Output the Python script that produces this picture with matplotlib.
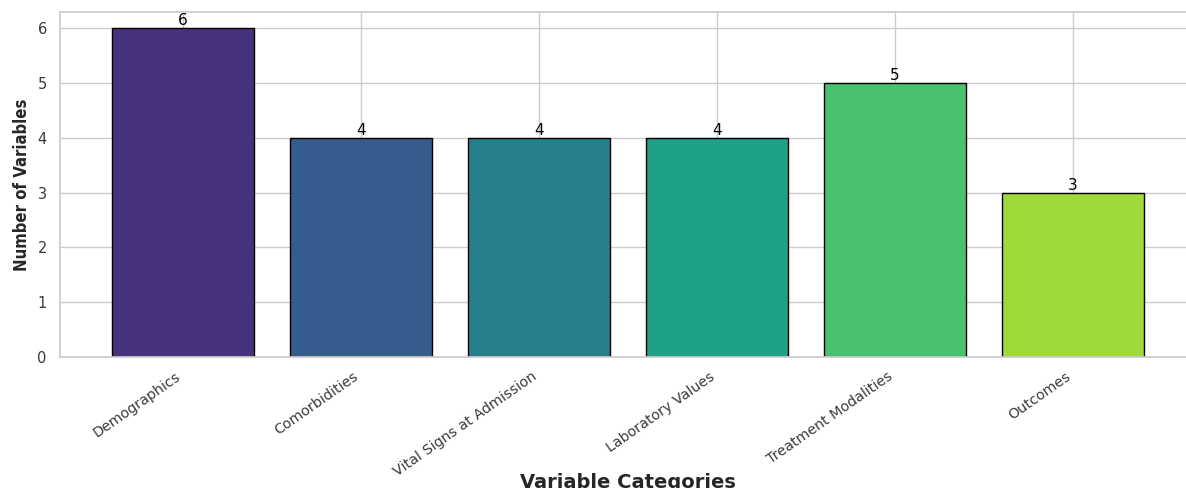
import matplotlib
matplotlib.use("Agg")
import matplotlib.pyplot as plt
import seaborn as sns

categories = ["Demographics", "Comorbidities", "Vital Signs at Admission",
              "Laboratory Values", "Treatment Modalities", "Outcomes"]
counts = [6, 4, 4, 4, 5, 3]


def main():
    sns.set_theme(style="whitegrid")
    plt.rcParams['font.family'] = ['DejaVu Sans']
    colors = sns.color_palette("viridis", len(categories))

    fig = plt.figure(figsize=(11.86, 4.88), dpi=100)
    ax = fig.add_axes([0.0506, 0.2684, 0.9578, 0.707])

    x = range(len(categories))
    bars = ax.bar(x, counts, color=colors, edgecolor="black", linewidth=1.0, width=0.8)
    ax.bar_label(bars, padding=0, fontsize=11, color="black")

    ax.set_xticks(list(x))
    ax.set_xticklabels(categories, rotation=35, ha="right", fontsize=10.3, color="#3a3a3a")
    ax.tick_params(axis="y", labelsize=10.5, labelcolor="#3a3a3a", pad=3.5)
    ax.tick_params(axis="x", pad=3)

    ax.set_xlabel("Variable Categories", fontsize=14, fontweight="bold", color="#262626")
    ax.xaxis.set_label_coords(0.5, -0.336)
    ax.set_ylabel("Number of Variables", fontsize=12, fontweight="bold",
                  fontstretch="condensed", color="#262626")
    ax.yaxis.set_label_coords(-0.0255, 0.5)

    for spine in ax.spines.values():
        spine.set_color("#cccccc")

    fig.savefig("out.png", dpi=100)


if __name__ == '__main__':
    main()
